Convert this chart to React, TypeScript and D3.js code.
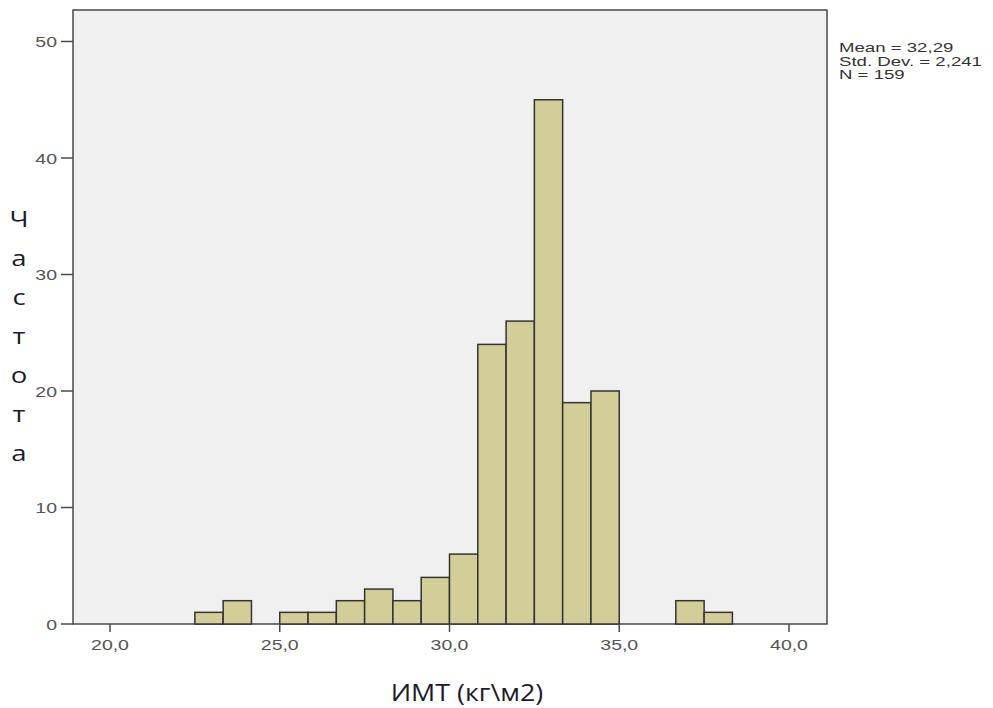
import React from 'react';
import * as d3 from 'd3';

// histogram: bins start at 22.5, width 5/6 (6 bins per 5 units)
const binStart = 22.5;
const binWidth = 5 / 6;
const counts = [1, 2, 0, 1, 1, 2, 3, 2, 4, 6, 24, 26, 45, 19, 20, 0, 0, 2, 1];

const xTicks = [20, 25, 30, 35, 40];
const yTicks = [0, 10, 20, 30, 40, 50];
const statLines = ['Mean = 32,29', 'Std. Dev. = 2,241', 'N = 159'];
const yLabel = 'Частота';
const xLabel = 'ИМТ (кг\\м2)';

const W = 993;
const H = 708;
const frame = { left: 73, right: 827, top: 10, bottom: 624 };

export default function App() {
  const x = d3.scaleLinear().domain([20, 40]).range([110, 789]);
  const y = d3.scaleLinear().domain([0, 50]).range([frame.bottom, 41.5]);
  const fmt = (v: number) => v.toFixed(1).replace('.', ',');

  return (
    <svg width={W} height={H} style={{ position: 'absolute', left: 0, top: 0, background: '#fff' }}>
      <rect
        x={frame.left}
        y={frame.top}
        width={frame.right - frame.left}
        height={frame.bottom - frame.top}
        fill="#f0f0f0"
        stroke="#4a4a4a"
        strokeWidth={1.5}
      />

      {counts.map((c, i) => {
        if (c === 0) return null;
        const x0 = x(binStart + i * binWidth);
        const x1 = x(binStart + (i + 1) * binWidth);
        return (
          <rect
            key={i}
            x={x0}
            y={y(c)}
            width={x1 - x0}
            height={y(0) - y(c)}
            fill="#d3ce97"
            stroke="#333"
            strokeWidth={1.5}
          />
        );
      })}

      {/* y axis ticks */}
      {yTicks.map((t) => (
        <g key={t}>
          <line x1={61} x2={frame.left} y1={y(t)} y2={y(t)} stroke="#4a4a4a" strokeWidth={1.5} />
          <text
            transform={`translate(57,${y(t) + 5.5}) scale(1.3,1)`}
            textAnchor="end"
            fontFamily="Liberation Sans, Arial, sans-serif"
            fontSize={15}
            fill="#555"
          >
            {t}
          </text>
        </g>
      ))}

      {/* x axis ticks */}
      {xTicks.map((t) => (
        <g key={t}>
          <line x1={x(t)} x2={x(t)} y1={frame.bottom} y2={frame.bottom + 8} stroke="#4a4a4a" strokeWidth={1.5} />
          <text
            transform={`translate(${x(t)},650) scale(1.3,1)`}
            textAnchor="middle"
            fontFamily="Liberation Sans, Arial, sans-serif"
            fontSize={15}
            fill="#555"
          >
            {fmt(t)}
          </text>
        </g>
      ))}

      {/* stats */}
      {statLines.map((s, i) => (
        <text
          key={s}
          transform={`translate(839,${52 + i * 13.5}) scale(1.38,1)`}
          fontFamily="Liberation Sans, Arial, sans-serif"
          fontSize={13.5}
          fill="#333"
        >
          {s}
        </text>
      ))}

      {/* vertical y label, stacked letters */}
      {yLabel.split('').map((ch, i) => (
        <text
          key={i}
          transform={`translate(19,${227 + i * 39}) scale(1.25,1)`}
          textAnchor="middle"
          fontFamily="Open Sans, sans-serif"
          fontSize={22}
          fill="#1c1c28"
        >
          {ch}
        </text>
      ))}

      <text
        transform="translate(467,701) scale(1.12,1)"
        textAnchor="middle"
        fontFamily="Open Sans, sans-serif"
        fontSize={24}
        fill="#1c1c28"
      >
        {xLabel}
      </text>
    </svg>
  );
}
